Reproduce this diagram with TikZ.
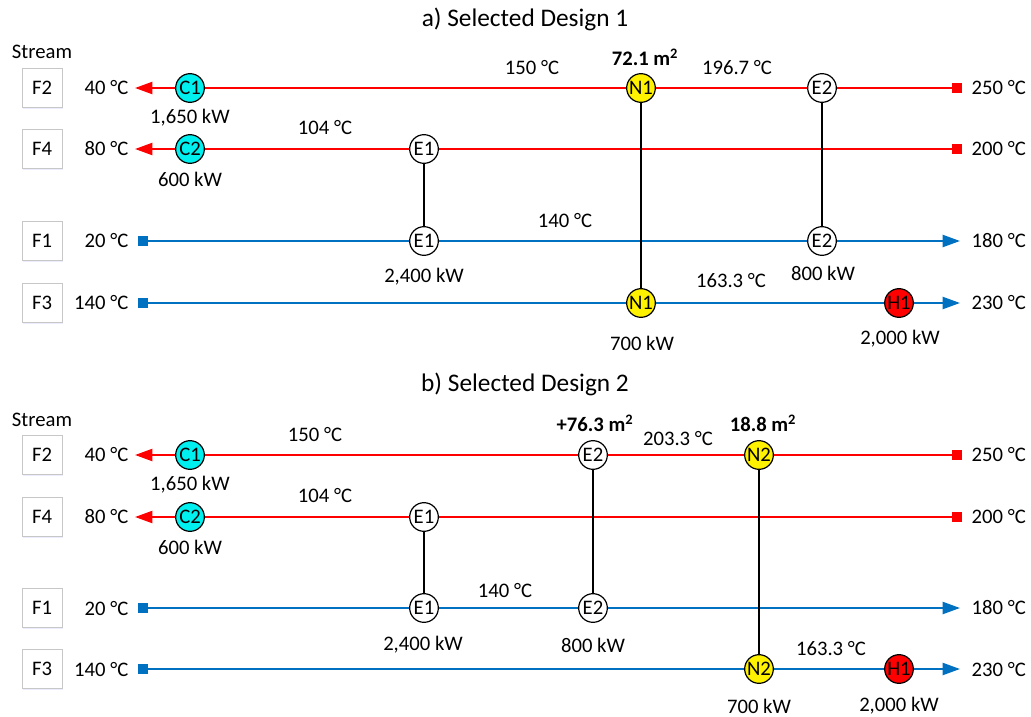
\documentclass[tikz,border=0pt]{standalone}
\usepackage{fontspec}
\setmainfont{Carlito}
\usepackage{xcolor}
\usepackage{tikz}
\usetikzlibrary{arrows.meta,positioning,shadows}

\definecolor{coldblue}{RGB}{0,112,192}
\definecolor{hotred}{RGB}{255,0,0}
\definecolor{aqua}{RGB}{0,240,240}

\begin{document}
\begin{tikzpicture}[x=0.75pt,y=-0.75pt,
    font=\fontsize{15.5}{18}\selectfont,
    title/.style={font=\fontsize{19}{22}\selectfont},
    streambox/.style={draw=black!22,fill=white,minimum width=30pt,
      minimum height=29pt,inner sep=0pt,
      drop shadow={shadow xshift=0.8pt,shadow yshift=-1.6pt,
        fill=blue!30,opacity=0.25}},
    hot/.style={draw=hotred,line width=1.6pt,
      {Square[length=7.5pt,width=7.5pt]}-{Triangle[length=13pt,width=9pt]}},
    cold/.style={draw=coldblue,line width=1.6pt,
      {Square[length=7.5pt,width=7.5pt]}-{Triangle[length=13pt,width=9pt]}},
    hx/.style={circle,draw=black,line width=0.9pt,fill=white,
      minimum size=21.5pt,inner sep=0pt},
    cooler/.style={hx,fill=aqua},
    heater/.style={hx,fill=hotred},
    newhx/.style={hx,fill=yellow},
    match/.style={draw=black,line width=1.2pt},
    area/.style={font=\fontsize{15.5}{18}\selectfont\bfseries},
    tin/.style={anchor=east},
    tout/.style={anchor=west}
  ]
    \useasboundingbox (0,0) rectangle (1031,717);

    % ---------- a) Selected Design 1 ----------
    \node[title] (ta) at (525,19) {a) Selected Design 1};
    \node (sa) at (42,52) {Stream};
    \node[streambox] (aF2) at (42,88) {F2};
    \node[streambox] (aF4) at (42,149) {F4};
    \node[streambox] (aF1) at (42,241) {F1};
    \node[streambox] (aF3) at (42,303) {F3};

    \node[tin] (aF2in) at (133,88) {40 °C};
    \node[tin] (aF4in) at (133,149) {80 °C};
    \node[tin] (aF1in) at (133,241) {20 °C};
    \node[tin] (aF3in) at (133,303) {140 °C};
    \node[tout] (aF2out) at (967,88) {250 °C};
    \node[tout] (aF4out) at (967,149) {200 °C};
    \node[tout] (aF1out) at (967,241) {180 °C};
    \node[tout] (aF3out) at (967,303) {230 °C};

    \coordinate (aF2s) at (962,88);  \coordinate (aF2e) at (135,88);
    \coordinate (aF4s) at (962,149); \coordinate (aF4e) at (135,149);
    \coordinate (aF1s) at (138,241); \coordinate (aF1e) at (960,241);
    \coordinate (aF3s) at (138,303); \coordinate (aF3e) at (960,303);
    \draw[hot] (aF2s) -- (aF2e);
    \draw[hot] (aF4s) -- (aF4e);
    \draw[cold] (aF1s) -- (aF1e);
    \draw[cold] (aF3s) -- (aF3e);

    \node[cooler] (aC1) at (190,88) {C1};
    \node[cooler] (aC2) at (190,149) {C2};
    \node[newhx] (aN1h) at (641,88) {N1};
    \node[hx] (aE2h) at (822,88) {E2};
    \node[hx] (aE1h) at (424,149) {E1};
    \node[hx] (aE1c) at (424,241) {E1};
    \node[hx] (aE2c) at (822,241) {E2};
    \node[newhx] (aN1c) at (641,303) {N1};
    \node[heater] (aH1) at (899,303) {H1};
    \draw[match] (aN1h) -- (aN1c);
    \draw[match] (aE2h) -- (aE2c);
    \draw[match] (aE1h) -- (aE1c);

    \node at (190,118) {1,650 kW};
    \node at (190,179) {600 kW};
    \node at (532,68) {150 °C};
    \node[area] at (645,57) {72.1 m\textsuperscript{2}};
    \node at (737,68) {196.7 °C};
    \node at (325,128) {104 °C};
    \node at (565,221) {140 °C};
    \node at (424,277) {2,400 kW};
    \node at (823,273) {800 kW};
    \node at (731,281) {163.3 °C};
    \node at (642,343) {700 kW};
    \node at (900,339) {2,000 kW};

    % ---------- b) Selected Design 2 ----------
    \node[title] (tb) at (525,384) {b) Selected Design 2};
    \node (sb) at (42,420) {Stream};
    \node[streambox] (bF2) at (42,455) {F2};
    \node[streambox] (bF4) at (42,517) {F4};
    \node[streambox] (bF1) at (42,608) {F1};
    \node[streambox] (bF3) at (42,669) {F3};

    \node[tin] (bF2in) at (133,455) {40 °C};
    \node[tin] (bF4in) at (133,517) {80 °C};
    \node[tin] (bF1in) at (133,608) {20 °C};
    \node[tin] (bF3in) at (133,669) {140 °C};
    \node[tout] (bF2out) at (967,455) {250 °C};
    \node[tout] (bF4out) at (967,517) {200 °C};
    \node[tout] (bF1out) at (967,608) {180 °C};
    \node[tout] (bF3out) at (967,669) {230 °C};

    \coordinate (bF2s) at (962,455); \coordinate (bF2e) at (135,455);
    \coordinate (bF4s) at (962,517); \coordinate (bF4e) at (135,517);
    \coordinate (bF1s) at (138,608); \coordinate (bF1e) at (960,608);
    \coordinate (bF3s) at (138,669); \coordinate (bF3e) at (960,669);
    \draw[hot] (bF2s) -- (bF2e);
    \draw[hot] (bF4s) -- (bF4e);
    \draw[cold] (bF1s) -- (bF1e);
    \draw[cold] (bF3s) -- (bF3e);

    \node[cooler] (bC1) at (190,455) {C1};
    \node[cooler] (bC2) at (190,517) {C2};
    \node[hx] (bE2h) at (593,455) {E2};
    \node[newhx] (bN2h) at (759,455) {N2};
    \node[hx] (bE1h) at (424,517) {E1};
    \node[hx] (bE1c) at (424,608) {E1};
    \node[hx] (bE2c) at (593,608) {E2};
    \node[newhx] (bN2c) at (759,669) {N2};
    \node[heater] (bH1) at (899,669) {H1};
    \draw[match] (bE2h) -- (bE2c);
    \draw[match] (bN2h) -- (bN2c);
    \draw[match] (bE1h) -- (bE1c);

    \node at (190,485) {1,650 kW};
    \node at (190,547) {600 kW};
    \node at (315,435) {150 °C};
    \node[area] at (595,423) {+76.3 m\textsuperscript{2}};
    \node at (678,439) {203.3 °C};
    \node[area] at (763,423) {18.8 m\textsuperscript{2}};
    \node at (325,496) {104 °C};
    \node at (505,590) {140 °C};
    \node at (423,645) {2,400 kW};
    \node at (593,645) {800 kW};
    \node at (831,649) {163.3 °C};
    \node at (759,706) {700 kW};
    \node at (899,706) {2,000 kW};
  \end{tikzpicture}
\end{document}
